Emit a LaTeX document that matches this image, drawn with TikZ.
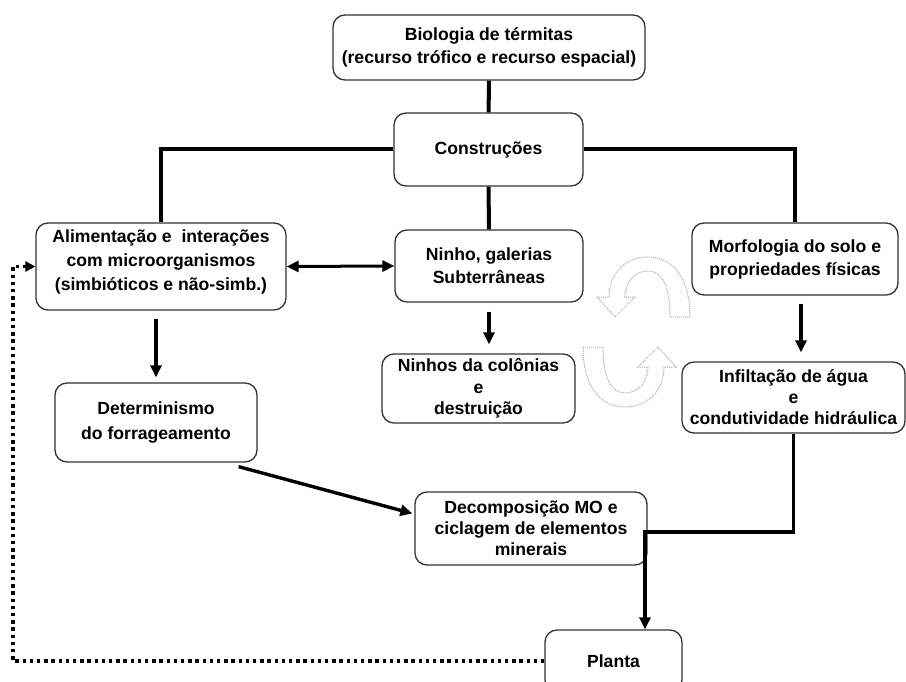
\documentclass[tikz,border=0pt]{standalone}
\usepackage{fontspec}
\setmainfont{Liberation Sans}
\usepackage{tikz}
\usetikzlibrary{arrows.meta}
\usetikzlibrary{calc}

\tikzset{
  bloco/.style={draw=gray!40!black, line width=1.3pt, rounded corners=12pt, fill=white,
    align=center, inner sep=2pt, font=\fontsize{17.6}{23}\selectfont\bfseries},
  liga/.style={line width=4pt},
  seta/.style={line width=3.4pt, -{Triangle[length=12pt,width=11pt]}},
  retorno/.style={line width=3.4pt, dash pattern=on 3.4pt off 3.8pt, -{Triangle[length=10pt,width=10pt]}},
  volta/.style={draw=gray!65, densely dotted, line width=1pt, fill=white},
}

\begin{document}
\begin{tikzpicture}[x=1pt,y=-1pt]
\useasboundingbox (0,0) rectangle (906,682);
\clip (0,0) rectangle (906,682);

% caixas
\node [bloco, minimum width=312, minimum height=65] (bio) at (489,47.5) {Biologia de térmitas\\(recurso trófico e recurso espacial)};
\node [bloco, minimum width=189, minimum height=73] (constr) at (488.5,149.5) {Construções};
\node [bloco, minimum width=250, minimum height=87, text depth=13pt, font=\fontsize{17.6}{24}\selectfont\bfseries] (alim) at (161,266.5) {Alimentação e~ interações\\com microorganismos\\(simbióticos e não-simb.)};
\node [bloco, minimum width=188, minimum height=72] (ninho) at (489,266) {Ninho, galerias\\Subterrâneas};
\node [bloco, minimum width=206, minimum height=72] (morf) at (795,259) {Morfologia do solo e\\propriedades físicas};
\node [bloco, minimum width=193, minimum height=69, font=\fontsize{17.6}{21.5}\selectfont\bfseries] (colon) at (478.5,388.5) {Ninhos da colônias\\e\\destruição};
\node [bloco, minimum width=223, minimum height=71, font=\fontsize{17.6}{21}\selectfont\bfseries] (infil) at (793.5,397.5) {Infiltação de água\\e\\condutividade hidráulica};
\node [bloco, minimum width=202, minimum height=79, font=\fontsize{17.6}{25}\selectfont\bfseries] (determ) at (156,422.5) {Determinismo\\do forrageamento};
\node [bloco, minimum width=232, minimum height=73, font=\fontsize{17.6}{21}\selectfont\bfseries] (decomp) at (531,528.5) {Decomposição MO e\\ciclagem de elementos\\minerais};
\node [bloco, minimum width=137, minimum height=62] (planta) at (613.5,661) {Planta};

% setas curvas
\path [volta] (583,347) .. controls (583,390) and (603,407) .. (625,407)
  .. controls (648,407) and (664,390) .. (664,367) -- (676,367) -- (658,347) -- (638,367) -- (648,367)
  .. controls (648,382) and (638,393) .. (625,393) .. controls (612,393) and (603,380) .. (603,347) -- cycle;
\path [volta, rotate around={180:(636.5,332)}] (583,347) .. controls (583,390) and (603,407) .. (625,407)
  .. controls (648,407) and (664,390) .. (664,367) -- (676,367) -- (658,347) -- (638,367) -- (648,367)
  .. controls (648,382) and (638,393) .. (625,393) .. controls (612,393) and (603,380) .. (603,347) -- cycle;

% ligacoes
\draw [liga] (bio) -- (constr);
\draw [liga] (constr.west) -| (alim.north);
\draw [liga] (constr.east) -| (morf.north);
\draw [liga] (constr) -- (ninho);
\draw [line width=3pt, {Triangle[length=12pt,width=11pt]}-{Triangle[length=12pt,width=11pt]}] (alim.east) -- (ninho.west);
\draw [seta, shorten <=8pt, shorten >=5pt] (determ.north |- alim.south) -- (determ.north);
\draw [seta, shorten <=9pt, shorten >=9pt] (ninho.south) -- (ninho.south |- colon.north);
\draw [seta, shorten <=8pt, shorten >=9pt] ([xshift=6pt]morf.south) -- ([xshift=6pt]morf.south |- infil.north);
\draw [seta] ($(determ.south east)+(-19,4)$) -- ($(decomp.west)+(-2,-15)$);
\coordinate (turn) at (645,532);
\draw [seta] (infil.south) |- (turn) -- (turn |- planta.north);
\coordinate (canto) at (13,661);
\draw [retorno] (planta.west) -- (planta.west -| canto) |- (alim.west);

\end{tikzpicture}
\end{document}
